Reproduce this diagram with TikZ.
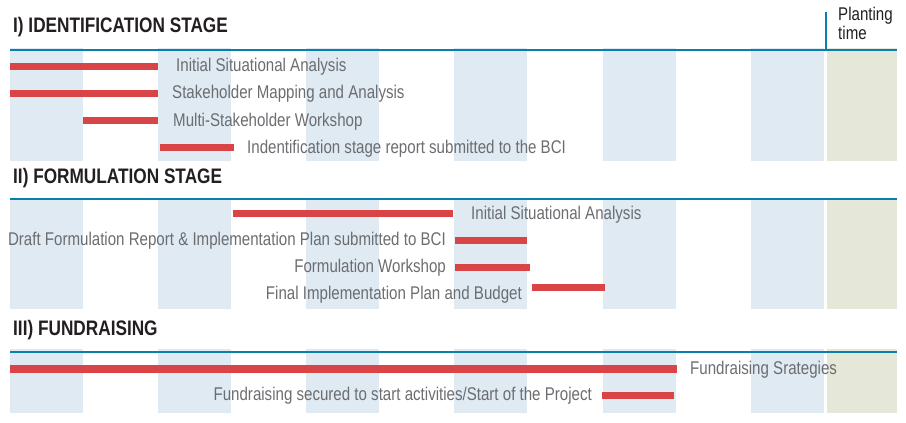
\documentclass[tikz,border=0pt]{standalone}
\usepackage{fontspec}
\setmainfont{Liberation Sans}[FakeStretch=0.82]
\definecolor{lineblue}{HTML}{0A7FAE}
\definecolor{barred}{HTML}{D94547}
\definecolor{stripeblue}{HTML}{DFEAF3}
\definecolor{plantgreen}{HTML}{E5E7D9}
\definecolor{taskgrey}{HTML}{6B6D70}
\definecolor{headdark}{HTML}{231F20}
\begin{document}
\begin{tikzpicture}[x=1pt,y=-1pt,
    stripe/.style={fill=stripeblue},
    plant/.style={fill=plantgreen},
    rule/.style={draw=lineblue,line width=2.6pt},
    bar/.style={draw=barred,line width=7pt},
    task/.style={text=taskgrey,inner sep=0pt,font=\fontsize{18.4}{16}\selectfont},
    stage/.style={text=headdark,inner sep=0pt,font=\fontsize{21}{21}\selectfont\bfseries}]
    \useasboundingbox (0,0) rectangle (906,423);
    %% Month stripes
    \foreach \top/\bot in {48/161,198/309,349/413}{
        \foreach \x in {10,158,306,454,603,751}
            \fill[stripe] (\x,\top) rectangle ++(73,\bot-\top);
        \fill[plant] (827,\top) rectangle (897,\bot);
    }
    %% Stage rules
    \draw[rule] (10,50) -- (897,50);
    \draw[rule] (10,199) -- (897,199);
    \draw[rule] (10,352) -- (897,352);
    \draw[rule] (826,12) -- (826,50);
    \node[text=headdark,inner sep=0pt,anchor=base west,align=left,
        font=\fontsize{18.4}{16}\selectfont] (plant) at (838,39) {Planting\\time};
    %% I) Identification
    \node[stage,anchor=base west] (st1) at (13,32) {I) IDENTIFICATION STAGE};
    \draw[bar] (10,66) -- (158,66);
    \draw[bar] (10,93) -- (158,93);
    \draw[bar] (83,120) -- (158,120);
    \draw[bar] (160,147) -- (234,147);
    \node[task,anchor=base west] (isa) at (176,71) {Initial Situational Analysis};
    \node[task,anchor=base west] (smap) at (172,98) {Stakeholder Mapping and Analysis};
    \node[task,anchor=base west] (msw) at (173,126) {Multi-Stakeholder Workshop};
    \node[task,anchor=base west] (isr) at (247,153) {Indentification stage report submitted to the BCI};
    %% II) Formulation
    \node[stage,anchor=base west] (st2) at (13,183) {II) FORMULATION STAGE};
    \draw[bar] (233,213) -- (453,213);
    \draw[bar] (455,240.5) -- (527,240.5);
    \draw[bar] (455,267.5) -- (530,267.5);
    \draw[bar] (532,287.5) -- (605,287.5);
    \node[task,anchor=base west] (fsa) at (471,219) {Initial Situational Analysis};
    \node[task,anchor=base east] (dfr) at (446,245) {Draft Formulation Report \& Implementation Plan submitted to BCI};
    \node[task,anchor=base east] (fws) at (446,272.5) {Formulation Workshop};
    \node[task,anchor=base east] (fip) at (522,299) {Final Implementation Plan and Budget};
    %% III) Fundraising
    \node[stage,anchor=base west] (st3) at (13,335) {III) FUNDRAISING};
    \draw[bar,line width=8pt] (10,368.5) -- (677,368.5);
    \draw[bar] (602,395.5) -- (674,395.5);
    \node[task,anchor=base west] (frs) at (690,374) {Fundraising Srategies};
    \node[task,anchor=base east] (frsec) at (592,400.5) {Fundraising secured to start activities/Start of the Project};
\end{tikzpicture}
\end{document}
